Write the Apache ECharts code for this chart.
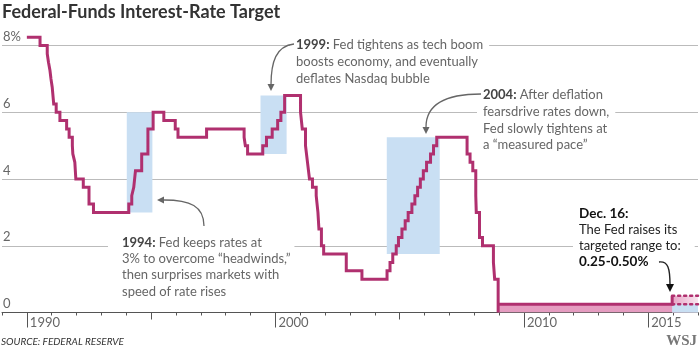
<!DOCTYPE html>
<html>
<head>
<meta charset="utf-8">
<script src="https://cdn.jsdelivr.net/npm/echarts@6/dist/echarts.min.js"></script>
<style>
  html, body { margin: 0; padding: 0; background: #fff; }
  #main { width: 700px; height: 350px; }
</style>
</head>
<body>
<div id="main"></div>
<script>
// fed funds target changes (decimal year, percent)
const changeDates = [1990.00, 1990.53, 1990.82, 1990.87, 1990.93, 1990.97, 1991.02, 1991.08, 1991.18, 1991.33,
  1991.60, 1991.70, 1991.83, 1991.85, 1991.93, 1991.97, 1992.27, 1992.50, 1992.68, 1994.10,
  1994.22, 1994.30, 1994.37, 1994.62, 1994.87, 1995.08, 1995.51, 1995.97, 1996.08, 1997.23,
  1998.74, 1998.79, 1998.88, 1999.49, 1999.64, 1999.87, 2000.09, 2000.22, 2000.37, 2001.01,
  2001.08, 2001.21, 2001.29, 2001.37, 2001.49, 2001.64, 2001.71, 2001.75, 2001.85, 2001.94,
  2002.85, 2003.48, 2004.49, 2004.61, 2004.72, 2004.86, 2004.95, 2005.09, 2005.22, 2005.34,
  2005.49, 2005.61, 2005.72, 2005.83, 2005.95, 2006.08, 2006.24, 2006.36, 2006.49, 2007.71,
  2007.83, 2007.94, 2008.06, 2008.08, 2008.21, 2008.33, 2008.77, 2008.82];
const targetRates = [8.25, 8.00, 7.75, 7.50, 7.25, 7.00, 6.75, 6.25, 6.00, 5.75,
  5.50, 5.25, 5.00, 4.75, 4.50, 4.00, 3.75, 3.25, 3.00, 3.25,
  3.50, 3.75, 4.25, 4.75, 5.50, 6.00, 5.75, 5.50, 5.25, 5.50,
  5.25, 5.00, 4.75, 5.00, 5.25, 5.50, 5.75, 6.00, 6.50, 6.00,
  5.50, 5.00, 4.50, 4.00, 3.75, 3.50, 3.00, 2.50, 2.00, 1.75,
  1.25, 1.00, 1.25, 1.50, 1.75, 2.00, 2.25, 2.50, 2.75, 3.00,
  3.25, 3.50, 3.75, 4.00, 4.25, 4.50, 4.75, 5.00, 5.25, 4.75,
  4.50, 4.25, 3.50, 3.00, 2.25, 2.00, 1.50, 1.00];

// target ranges after Dec 2008
const rangeDates = [2008.96, 2015.96];
const rangeLow = [0, 0.25];
const rangeHigh = [0.25, 0.50];
const endYear = 2017;

// shaded highlight boxes
const boxStart = [1994.02, 1999.40, 2004.48];
const boxEnd = [1995.05, 2000.45, 2006.61];
const boxLow = [3.0, 4.75, 1.75];
const boxHigh = [6.0, 6.5, 5.25];

const labelYears = [1990, 2000, 2010, 2015];
const midYears = [1995, 2005];

const MAGENTA = '#b0306f';
const GRAY = '#666';

// build step line: single target, then drop to range, then upper bound
const mainLine = changeDates.map((d, i) => [d, targetRates[i]]);
mainLine.push([rangeDates[0], rangeLow[0]]);
mainLine.push([rangeDates[0], rangeHigh[0]]);
mainLine.push([rangeDates[1], rangeHigh[1]]);

const areas = boxStart.map((s, i) => [{ coord: [s, boxLow[i]] }, { coord: [boxEnd[i], boxHigh[i]] }]);

const chart = echarts.init(document.getElementById('main'));

const baseX = { type: 'value', position: 'bottom', offset: 0, min: 1989, max: endYear, splitLine: { show: false } };

const option = {
  animation: false,
  title: {
    text: 'Federal-Funds Interest-Rate Target',
    left: 2, top: 3, padding: 0,
    textStyle: { fontFamily: 'Lato', fontSize: 18, fontWeight: 'bold', color: '#333' }
  },
  grid: { left: 2, right: 2, top: 45.5, bottom: 37.5, containLabel: false },
  xAxis: [
    Object.assign({}, baseX, {
      interval: 1,
      axisLine: { lineStyle: { color: '#555', width: 1 } },
      axisTick: { length: 3, lineStyle: { color: '#555' } },
      axisLabel: { show: false }
    }),
    Object.assign({}, baseX, {
      axisLine: { show: false },
      axisTick: { length: 7, customValues: midYears, lineStyle: { color: '#555' } },
      axisLabel: { show: false }
    }),
    Object.assign({}, baseX, {
      axisLine: { show: false },
      axisTick: { length: 15, customValues: labelYears, lineStyle: { color: '#555' } },
      axisLabel: {
        customValues: labelYears, align: 'left', margin: 4, padding: [0, 0, 0, 3],
        color: GRAY, fontFamily: 'Lato', fontSize: 13,
        formatter: v => String(v)
      }
    })
  ],
  yAxis: {
    type: 'value', min: 0, max: 8, interval: 2,
    axisLine: { show: false }, axisTick: { show: false },
    splitLine: { lineStyle: { color: '#bbb', width: 1 } },
    axisLabel: {
      inside: true, margin: 1, verticalAlign: 'bottom', padding: [0, 0, 2, 0],
      color: GRAY, fontFamily: 'Lato', fontSize: 13,
      formatter: v => (v === 8 ? '8%' : String(v))
    }
  },
  series: [
    {
      // highlight boxes
      type: 'line', data: [], silent: true,
      markArea: { silent: true, itemStyle: { color: '#c9dff3' }, data: areas },
      z: 1
    },
    {
      // 0-0.25 range band
      type: 'line', data: rangeDates.map(d => [d, rangeHigh[0]]),
      showSymbol: false, lineStyle: { width: 0 },
      areaStyle: { color: '#e59cc0', opacity: 1 }, z: 2
    },
    {
      // new range upper bound
      type: 'line', data: [[rangeDates[1], rangeHigh[1]], [endYear, rangeHigh[1]]],
      showSymbol: false, clip: false,
      lineStyle: { color: MAGENTA, width: 2.5, type: [2, 4], cap: 'round' },
      areaStyle: {
        opacity: 1,
        color: new echarts.graphic.LinearGradient(0, 0, 1, 0, [
          { offset: 0, color: '#e7a3c6' },
          { offset: 1, color: '#f8e6ef' }
        ])
      },
      z: 2
    },
    {
      // new range lower bound
      type: 'line', data: [[rangeDates[1], rangeLow[1]], [endYear, rangeLow[1]]],
      showSymbol: false, clip: false,
      lineStyle: { color: MAGENTA, width: 2.5, type: [2, 4], cap: 'round' },
      areaStyle: { color: '#c9dff3', opacity: 1 },
      z: 3
    },
    {
      type: 'line', data: mainLine, step: 'end', showSymbol: false, clip: false,
      lineStyle: { color: MAGENTA, width: 3, join: 'miter' }, z: 4
    }
  ],
  graphic: [
    {
      type: 'text', x: 290, y: 36.7, z: 1,
      style: {
        text: '{b|1999:} Fed tightens as tech boom\nboosts economy, and eventually\ndeflates Nasdaq bubble',
        backgroundColor: '#fff', padding: [0, 6, 0, 6],
        fill: GRAY, fontFamily: 'Lato', fontSize: 13, lineHeight: 16.7,
        rich: { b: { fontWeight: 'bold', fill: '#444', fontFamily: 'Lato', fontSize: 13, lineHeight: 16.7 } }
      }
    },
    {
      type: 'text', x: 477, y: 86.7, z: 1,
      style: {
        text: '{b|2004:} After deflation\nfearsdrive rates down,\nFed slowly tightens at\na \u201cmeasured pace\u201d',
        backgroundColor: '#fff', padding: [0, 6, 0, 6],
        fill: GRAY, fontFamily: 'Lato', fontSize: 13, lineHeight: 16.7,
        rich: { b: { fontWeight: 'bold', fill: '#444', fontFamily: 'Lato', fontSize: 13, lineHeight: 16.7 } }
      }
    },
    {
      type: 'text', x: 108, y: 234.7, z: 1,
      style: {
        text: '{b|1994:} Fed keeps rates at\n3% to overcome \u201cheadwinds,\u201d\nthen surprises markets with\nspeed of rate rises',
        backgroundColor: '#fff', padding: [0, 4, 0, 14],
        fill: GRAY, fontFamily: 'Lato', fontSize: 13, lineHeight: 16.2,
        rich: { b: { fontWeight: 'bold', fill: '#444', fontFamily: 'Lato', fontSize: 13, lineHeight: 16.2 } }
      }
    },
    {
      type: 'text', x: 573, y: 205, z: 1,
      style: {
        text: '{b|Dec. 16:}\nThe Fed raises its\ntargeted range to:\n{b|0.25-0.50%}',
        backgroundColor: '#fff', padding: [0, 14, 0, 6],
        fill: '#222', fontFamily: 'Lato', fontSize: 13, lineHeight: 16.3,
        rich: { b: { fontWeight: 'bold', fill: '#111', fontFamily: 'Lato', fontSize: 13.5, lineHeight: 16.3 } }
      }
    },
    // arrows
    {
      type: 'bezierCurve', z: 10,
      shape: { x1: 294, y1: 44, cpx1: 276, cpy1: 46, cpx2: 271, cpy2: 62, x2: 271, y2: 85 },
      style: { stroke: GRAY, lineWidth: 1.3, fill: null }
    },
    { type: 'polygon', z: 10, shape: { points: [[267.5, 84], [274.5, 84], [271, 91]] }, style: { fill: GRAY } },
    {
      type: 'bezierCurve', z: 10,
      shape: { x1: 481, y1: 94, cpx1: 445, cpy1: 94, cpx2: 426, cpy2: 104, x2: 426, y2: 127 },
      style: { stroke: GRAY, lineWidth: 1.3, fill: null }
    },
    { type: 'polygon', z: 10, shape: { points: [[422.5, 127], [429.5, 127], [426, 134]] }, style: { fill: GRAY } },
    {
      type: 'bezierCurve', z: 10,
      shape: { x1: 204, y1: 226, cpx1: 204, cpy1: 206, cpx2: 190, cpy2: 200, x2: 164, y2: 200 },
      style: { stroke: GRAY, lineWidth: 1.3, fill: null }
    },
    { type: 'polygon', z: 10, shape: { points: [[164, 196.5], [164, 203.5], [157, 200]] }, style: { fill: GRAY } },
    {
      type: 'bezierCurve', z: 10,
      shape: { x1: 659, y1: 262, cpx1: 668, cpy1: 261, cpx2: 670, cpy2: 268, x2: 670, y2: 285 },
      style: { stroke: '#222', lineWidth: 1.4, fill: null }
    },
    { type: 'polygon', z: 10, shape: { points: [[666, 284], [674, 284], [670, 292]] }, style: { fill: '#111' } },
    {
      type: 'text', x: 1, y: 337, z: 10,
      style: { text: 'SOURCE: FEDERAL RESERVE', fill: '#333', fontFamily: 'Lato', fontStyle: 'italic', fontSize: 10 }
    },
    {
      type: 'text', x: 697, y: 334, z: 10,
      style: { text: 'WSJ', align: 'right', fill: '#777', fontFamily: 'Liberation Serif', fontWeight: 'bold', fontSize: 15 }
    }
  ]
};

chart.setOption(option);
</script>
</body>
</html>
